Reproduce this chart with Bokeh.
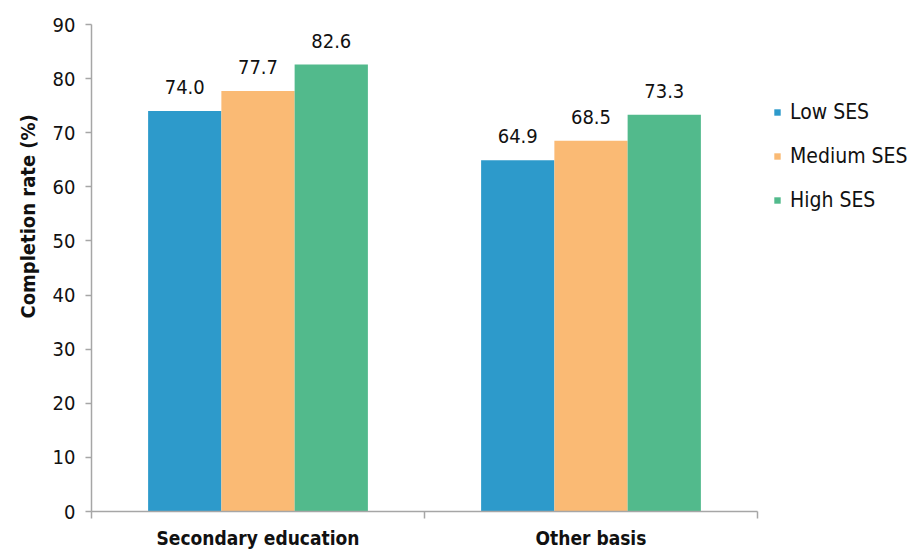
from bokeh.plotting import figure
from bokeh.models import (ColumnDataSource, FixedTicker, Range1d, Legend, LegendItem,
                          LabelSet, Title)
from bokeh.core.properties import value
from bokeh.transform import dodge
from bokeh.embed import file_html
from bokeh.resources import INLINE

categories = ["Secondary education", "Other basis"]
series = ["Low SES", "Medium SES", "High SES"]
low = [74.0, 64.9]
medium = [77.7, 68.5]
high = [82.6, 73.3]
colors = ["#2D9ACB", "#FABA74", "#52BA8C"]
y_ticks = list(range(0, 100, 10))

FONT = "DejaVu Sans Condensed, Roboto, sans-serif"
AXIS_COLOR = "#A6A6A6"
TEXT_COLOR = "#111111"

n = len(categories)
x_pos = [i + 0.5 for i in range(n)]
data = dict(x=x_pos)
for key, vals in (("low", low), ("medium", medium), ("high", high)):
    data[key] = vals
    data[key + "_t"] = [f"{v:.1f}" for v in vals]
src = ColumnDataSource(data)

p = figure(frame_width=666, frame_height=487,
           x_range=Range1d(0, n), y_range=Range1d(0, 90),
           output_backend="svg", toolbar_location=None,
           min_border_left=91, min_border_right=159,
           min_border_top=24, min_border_bottom=38)
p.outline_line_color = None
p.xgrid.visible = False
p.ygrid.visible = False
p.background_fill_color = "white"
p.border_fill_color = "white"

bw = 0.22
offsets = [-bw, 0.0, bw]
renderers = []
for key, off, col in zip(("low", "medium", "high"), offsets, colors):
    r = p.vbar(x=dodge("x", off, range=p.x_range), top=key, width=bw, bottom=0,
               source=src, fill_color=col, line_color=None)
    renderers.append(r)
    ls = LabelSet(x=dodge("x", off, range=p.x_range), y=key, text=key + "_t",
                  source=src, text_align="center", text_baseline="alphabetic",
                  y_offset=17, text_font=value(FONT), text_font_size=value("20px"),
                  text_color=value(TEXT_COLOR))
    p.add_layout(ls)

# y axis
ya = p.yaxis[0]
ya.ticker = FixedTicker(ticks=y_ticks)
ya.axis_line_color = AXIS_COLOR
ya.axis_line_width = 1.5
ya.major_tick_line_color = AXIS_COLOR
ya.major_tick_line_width = 1.5
ya.major_tick_out = 6
ya.major_tick_in = 0
ya.minor_tick_line_color = None
ya.major_label_text_font = FONT
ya.major_label_text_font_size = "20px"
ya.major_label_text_color = TEXT_COLOR
ya.major_label_standoff = 10

# x axis: labels at centres, ticks at category boundaries
xa = p.xaxis[0]
xa.ticker = FixedTicker(ticks=x_pos, minor_ticks=list(range(n + 1)))
xa.major_label_overrides = {x: c for x, c in zip(x_pos, categories)}
xa.axis_line_color = AXIS_COLOR
xa.axis_line_width = 1.5
xa.major_tick_line_color = None
xa.major_tick_out = 0
xa.major_tick_in = 0
xa.minor_tick_line_color = AXIS_COLOR
xa.minor_tick_line_width = 1.5
xa.minor_tick_out = 7
xa.minor_tick_in = 0
xa.major_label_text_font = FONT
xa.major_label_text_font_size = "19px"
xa.major_label_text_font_style = "bold"
xa.major_label_text_color = TEXT_COLOR
xa.major_label_standoff = 8

ytitle = Title(text="Completion rate (%)", align="left", offset=193,
               text_font=FONT, text_font_size="20px", text_font_style="bold",
               text_color=TEXT_COLOR, standoff=19)
p.add_layout(ytitle, "left")

legend = Legend(items=[LegendItem(label=s, renderers=[r]) for s, r in zip(series, renderers)],
                location=(16, 299), orientation="vertical",
                label_text_font=FONT, label_text_font_size="21px",
                label_text_color=TEXT_COLOR, glyph_width=8, glyph_height=8,
                label_height=20, spacing=20, padding=0, margin=0,
                border_line_color=None, background_fill_alpha=0,
                label_standoff=9)
p.add_layout(legend, "right")

open("out.html", "w").write(file_html(p, INLINE))
